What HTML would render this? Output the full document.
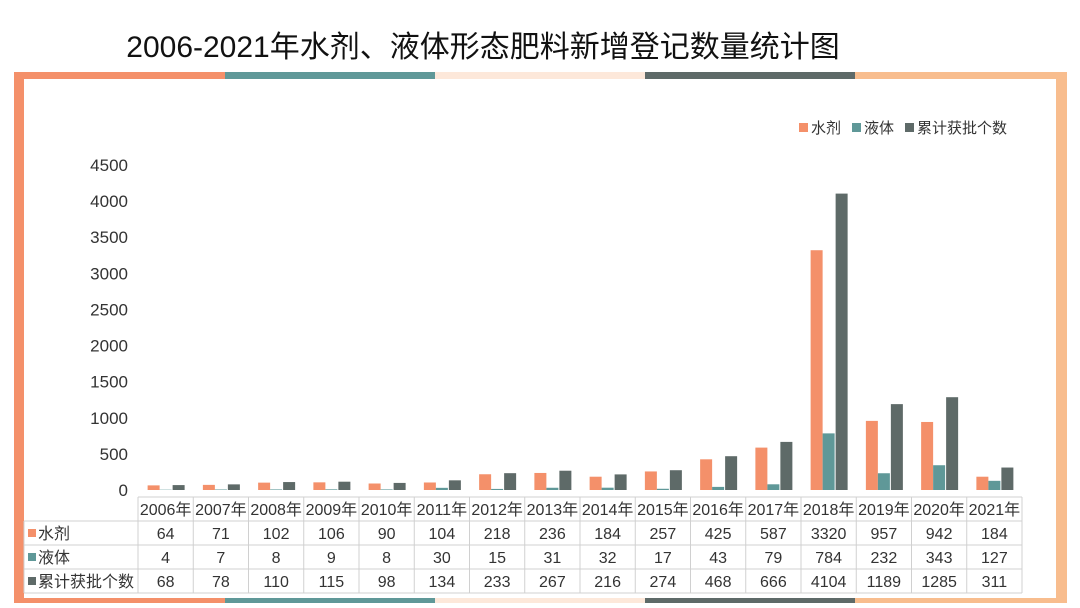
<!DOCTYPE html>
<html><head><meta charset="utf-8">
<style>
body{margin:0;width:1080px;height:603px;background:#fff;overflow:hidden;font-family:"Liberation Sans","Noto Sans CJK SC",sans-serif;}
svg text{font-family:"Liberation Sans","Noto Sans CJK SC",sans-serif;}
</style></head><body>
<svg id="c" width="1080" height="603">
<text x="483" y="57" font-size="30" text-anchor="middle" fill="#111">2006-2021年水剂、液体形态肥料新增登记数量统计图</text>
<g>
<rect x="14" y="72" width="1053" height="531" fill="#fff"/>
<rect x="14" y="72" width="211" height="7" fill="#f4906a"/>
<rect x="225" y="72" width="210" height="7" fill="#5f9898"/>
<rect x="435" y="72" width="210" height="7" fill="#fde8da"/>
<rect x="645" y="72" width="210" height="7" fill="#5e6a68"/>
<rect x="855" y="72" width="212" height="7" fill="#f8bd8e"/>
<rect x="14" y="72" width="10" height="531" fill="#f4906a"/>
<rect x="1056" y="72" width="11" height="531" fill="#f8bd8e"/>
<rect x="24" y="598" width="201" height="5" fill="#f4906a"/>
<rect x="225" y="598" width="210" height="5" fill="#5f9898"/>
<rect x="435" y="598" width="210" height="5" fill="#fde8da"/>
<rect x="645" y="598" width="210" height="5" fill="#5e6a68"/>
<rect x="855" y="598" width="201" height="5" fill="#f8bd8e"/>
</g>
<g>
<rect x="799" y="123" width="9" height="9" fill="#f4906a"/><text x="811" y="133" font-size="15" fill="#333">水剂</text>
<rect x="852" y="123" width="9" height="9" fill="#5f9898"/><text x="864" y="133" font-size="15" fill="#333">液体</text>
<rect x="905" y="123" width="9" height="9" fill="#5e6a68"/><text x="917" y="133" font-size="15" fill="#333">累计获批个数</text>
</g>
<g id="plot"></g>
</svg>
<script>
const categories=["2006年","2007年","2008年","2009年","2010年","2011年","2012年","2013年","2014年","2015年","2016年","2017年","2018年","2019年","2020年","2021年"];
const shuiji=[64,71,102,106,90,104,218,236,184,257,425,587,3320,957,942,184];
const yeti=[4,7,8,9,8,30,15,31,32,17,43,79,784,232,343,127];
const leiji=[68,78,110,115,98,134,233,267,216,274,468,666,4104,1189,1285,311];
const yTicks=[0,500,1000,1500,2000,2500,3000,3500,4000,4500];
const seriesNames=["水剂","液体","累计获批个数"];
const colors=["#f4906a","#5f9898","#5e6a68"];
const NS="http://www.w3.org/2000/svg";
const g=document.getElementById('plot');
const x0=138,cw=55.25,y0=490,yMax=4500,yTop=165;
const y=v=>y0-(v/yMax)*(y0-yTop);
const xc=i=>x0+cw*i+cw/2;
function el(t,a,txt){const e=document.createElementNS(NS,t);for(const k in a)e.setAttribute(k,a[k]);if(txt!==undefined)e.textContent=txt;g.appendChild(e);return e;}
yTicks.forEach(t=>{const e=el('text',{x:128,y:y(t)+6,'font-size':17,'text-anchor':'end',fill:'#333'},t);

});
const series=[shuiji,yeti,leiji];
const offs=[-18,-6,7];
series.forEach((s,si)=>s.forEach((v,i)=>{const r=el('rect',{x:xc(i)+offs[si],y:y(v),width:12,height:y0-y(v),fill:colors[si]});

}));
const st='#d0d0d0';
const rows=[497,521,545,569,593];
el('line',{x1:x0,y1:rows[0],x2:x0+cw*16,y2:rows[0],stroke:st});
for(let r=1;r<5;r++)el('line',{x1:24,y1:rows[r],x2:x0+cw*16,y2:rows[r],stroke:st});
el('line',{x1:24,y1:rows[1],x2:24,y2:rows[4],stroke:st});
for(let i=0;i<=16;i++)el('line',{x1:x0+cw*i,y1:rows[0],x2:x0+cw*i,y2:rows[4],stroke:st});
categories.forEach((c,i)=>{const e=el('text',{x:xc(i),y:515,'font-size':16,'text-anchor':'middle',fill:'#333'},c);

});
series.forEach((s,si)=>{
const ry=rows[si+1];
el('rect',{x:28,y:ry+8,width:8,height:8,fill:colors[si]});
const lb=el('text',{x:38,y:ry+18,'font-size':16,fill:'#333'},seriesNames[si]);


s.forEach((v,i)=>{const e=el('text',{x:xc(i),y:ry+18,'font-size':16,'text-anchor':'middle',fill:'#333'},v);

});
});
</script>
</body></html>
